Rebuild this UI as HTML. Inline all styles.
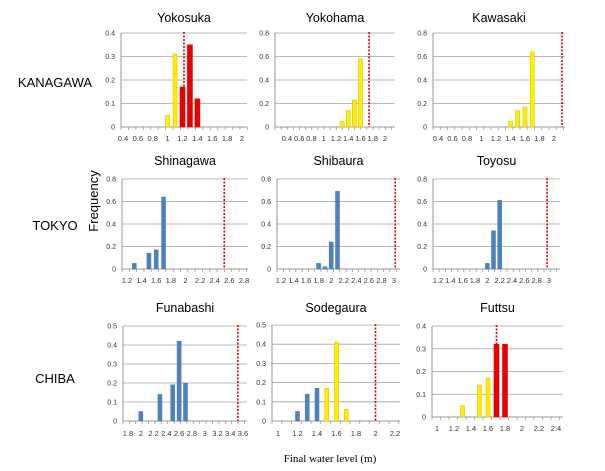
<!DOCTYPE html>
<html><head><meta charset="utf-8"><style>
body{margin:0;background:#fff}
svg{display:block;font-family:"Liberation Sans",sans-serif}
</style></head><body>
<svg id="c" width="605" height="471" viewBox="0 0 605 471">
<text x="55" y="87" font-size="13" text-anchor="middle">KANAGAWA</text>
<text x="55" y="230" font-size="13" text-anchor="middle">TOKYO</text>
<text x="55" y="383" font-size="13" text-anchor="middle">CHIBA</text>
<text x="0" y="0" font-size="13" text-anchor="middle" transform="translate(98,201) rotate(-90)">Frequency</text>
<text x="330" y="462" font-size="11" text-anchor="middle" font-family="Liberation Serif, serif">Final water level (m)</text>
</svg>
<script>
// data per panel
const names=["Yokosuka","Yokohama","Kawasaki","Shinagawa","Shibaura","Toyosu","Funabashi","Sodegaura","Futtsu"];
const yokosukaX=[1.0,1.1,1.2,1.3,1.4], yokosukaY=[0.05,0.31,0.17,0.35,0.12], yokosukaC=["y","y","r","r","r"];
const yokohamaX=[1.3,1.4,1.5,1.6], yokohamaY=[0.05,0.14,0.23,0.58], yokohamaC=["y","y","y","y"];
const kawasakiX=[1.4,1.5,1.6,1.7], kawasakiY=[0.05,0.14,0.17,0.64], kawasakiC=["y","y","y","y"];
const shinagawaX=[1.3,1.5,1.6,1.7], shinagawaY=[0.05,0.14,0.17,0.64], shinagawaC=["b","b","b","b"];
const shibauraX=[1.8,1.9,2.0,2.1], shibauraY=[0.05,0.02,0.24,0.69], shibauraC=["b","b","b","b"];
const toyosuX=[2.0,2.1,2.2], toyosuY=[0.05,0.34,0.61], toyosuC=["b","b","b"];
const funabashiX=[2.0,2.3,2.5,2.6,2.7], funabashiY=[0.05,0.14,0.19,0.42,0.2], funabashiC=["b","b","b","b","b"];
const sodegauraX=[1.2,1.3,1.4,1.5,1.6,1.7], sodegauraY=[0.05,0.14,0.17,0.17,0.41,0.06], sodegauraC=["b","b","b","y","y","y"];
const futtsuX=[1.3,1.5,1.6,1.7,1.8], futtsuY=[0.05,0.14,0.17,0.32,0.32], futtsuC=["y","y","y","r","r"];
const dashedValues=[1.22,1.74,2.11,2.53,3.02,2.97,3.52,2.0,1.7];
const yMaxes=[0.4,0.8,0.8,0.8,0.8,0.8,0.5,0.5,0.4];
const yStepsTick=[0.1,0.2,0.2,0.2,0.2,0.2,0.1,0.1,0.1];
const xTickLabels=[
["0.4","0.6","0.8","1","1.2","1.4","1.6","1.8","2"],
["0.4","0.6","0.8","1","1.2","1.4","1.6","1.8","2"],
["0.4","0.6","0.8","1","1.2","1.4","1.6","1.8","2"],
["1.2","1.4","1.6","1.8","2","2.2","2.4","2.6","2.8"],
["1.2","1.4","1.6","1.8","2","2.2","2.4","2.6","2.8","3"],
["1.2","1.4","1.6","1.8","2","2.2","2.4","2.6","2.8","3"],
["1.8","2","2.2","2.4","2.6","2.8","3","3.2","3.4","3.6"],
["1","1.2","1.4","1.6","1.8","2","2.2"],
["1","1.2","1.4","1.6","1.8","2","2.2","2.4"]];
const allX=[yokosukaX,yokohamaX,kawasakiX,shinagawaX,shibauraX,toyosuX,funabashiX,sodegauraX,futtsuX];
const allY=[yokosukaY,yokohamaY,kawasakiY,shinagawaY,shibauraY,toyosuY,funabashiY,sodegauraY,futtsuY];
const allC=[yokosukaC,yokohamaC,kawasakiC,shinagawaC,shibauraC,toyosuC,funabashiC,sodegauraC,futtsuC];
// layout (not data)
const L=[
{ax:121,x0:123,x1:242,end:247,top:33,bot:127,lab:141,title:22},
{ax:275,x0:287,x1:385,end:395,top:33,bot:127,lab:141,title:22},
{ax:433,x0:438,x1:554,end:565,top:33,bot:127,lab:141,title:22},
{ax:122,x0:127,x1:244,end:248,top:179,bot:269,lab:283,title:165},
{ax:277,x0:281,x1:394,end:400,top:179,bot:269,lab:283,title:165},
{ax:433,x0:438,x1:549,end:560,top:179,bot:269,lab:283,title:165},
{ax:123,x0:128,x1:243,end:247,top:326,bot:421,lab:436,title:312},
{ax:272,x0:278,x1:395,end:400,top:325,bot:421,lab:436,title:312},
{ax:432,x0:437,x1:556,end:563,top:326,bot:417,lab:431,title:312}];
const cols={y:"#ffee00",r:"#e80000",b:"#4f81bd"};
const strokes={y:"#e6c000",r:"#e80000",b:"#4f81bd"};
const svg=document.getElementById('c');
const NS="http://www.w3.org/2000/svg";
function mk(t,a,p){const e=document.createElementNS(NS,t);for(const k in a)e.setAttribute(k,a[k]);(p||svg).appendChild(e);return e;}
names.forEach((nm,i)=>{
 const l=L[i];
 const g=mk('g',{});
 
 
 const vmin=parseFloat(xTickLabels[i][0]), vmaxL=parseFloat(xTickLabels[i][xTickLabels[i].length-1]);
 const xs=v=>l.x0+(v-vmin)/(vmaxL-vmin)*(l.x1-l.x0);
 const ys=v=>l.bot-v/yMaxes[i]*(l.bot-l.top);
 const t=mk('text',{x:(l.ax+l.end)/2,y:l.title,'font-size':12.5,'text-anchor':'middle'},g);t.textContent=nm;
 
 
 const n=Math.round(yMaxes[i]/yStepsTick[i]);
 for(let k=0;k<=n;k++){const v=k*yStepsTick[i];const y=ys(v);
  mk('line',{x1:l.ax,x2:l.end,y1:y,y2:y,stroke:k==0?'#999':'#a0a0a0','stroke-width':k==0?1:0.8},g);
  const tt=mk('text',{x:l.ax-6,y:y+2.5,'font-size':7,'text-anchor':'end',fill:'#333'},g);tt.textContent=(Math.round(v*10)/10).toString();
  
  }
 mk('line',{x1:l.ax,x2:l.ax,y1:l.top,y2:l.bot,stroke:'#999','stroke-width':1},g);
 const step=(xs(vmin+0.1)-xs(vmin));
 for(let x=l.ax;x<=l.end+0.5;x+=step){mk('line',{x1:x,x2:x,y1:l.bot,y2:l.bot+3,stroke:'#999','stroke-width':0.8},g);}
 xTickLabels[i].forEach(s=>{const tt=mk('text',{x:xs(parseFloat(s)),y:l.lab,'font-size':7.5,'text-anchor':'middle',fill:'#333'},g);tt.textContent=s;
  
  });
 const dv=dashedValues[i];
 mk('line',{x1:xs(dv),x2:xs(dv),y1:l.top-1,y2:l.bot,stroke:'#e00000','stroke-width':1.6,'stroke-dasharray':'2,1.5'},g);
 allX[i].forEach((xv,j)=>{const c=allC[i][j];const w=c=='r'?5:4;const y=ys(allY[i][j]);
  const r=mk('rect',{x:xs(xv)-w/2,y:y,width:w,height:l.bot-y,fill:cols[c],stroke:strokes[c],'stroke-width':0.6},g);
  
  });
});
</script>
</body></html>
